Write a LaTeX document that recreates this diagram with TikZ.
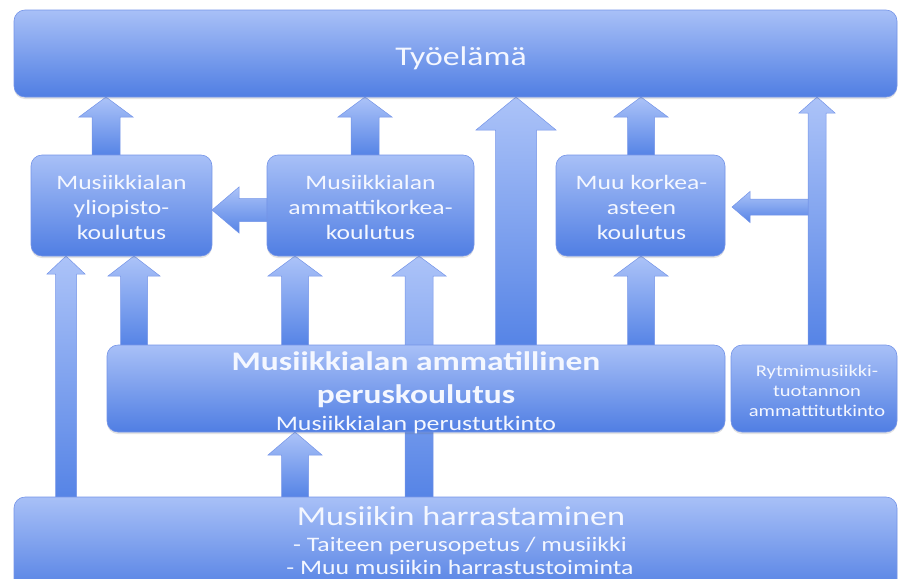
\documentclass[tikz,border=0pt]{standalone}
\usepackage{fontspec}
\setmainfont{Carlito}
\usetikzlibrary{calc,shadows}
\definecolor{btop}{RGB}{168,192,247}
\definecolor{bbot}{RGB}{80,126,227}
\definecolor{atop}{RGB}{172,195,248}
\definecolor{abot}{RGB}{86,132,230}
\definecolor{edgec}{RGB}{116,148,232}
\definecolor{txtc}{RGB}{244,247,255}
\pgfdeclarelayer{bg}
\pgfsetlayers{bg,main}
\tikzset{
  box/.style={rounded corners=11pt, top color=btop, bottom color=bbot, draw=edgec, line width=0.6pt, inner sep=0pt, outer sep=0pt,
    drop shadow={shadow xshift=0pt, shadow yshift=-2pt, opacity=0.18, fill=black!60}},
  blk/.style={top color=atop, bottom color=abot, draw=edgec, line width=0.5pt},
  lbl/.style={text=txtc, align=center, xscale=1.25, inner sep=0pt},
}
% up block arrow: #1 tail, #2 tip, #3 shaft half width, #4 head half width, #5 head length
\newcommand\blkup[5]{%
  \path[blk] let \p1=#1, \p2=#2 in
    ({\x1-#3pt},\y1) -- ({\x1-#3pt},{\y2-#5pt}) -- ({\x1-#4pt},{\y2-#5pt}) -- (\x1,\y2)
    -- ({\x1+#4pt},{\y2-#5pt}) -- ({\x1+#3pt},{\y2-#5pt}) -- ({\x1+#3pt},\y1) -- cycle;}
% left block arrow
\newcommand\blkleft[5]{%
  \path[blk] let \p1=#1, \p2=#2 in
    (\x1,{\y1+#3pt}) -- ({\x2+#5pt},{\y1+#3pt}) -- ({\x2+#5pt},{\y1+#4pt}) -- (\x2,\y1)
    -- ({\x2+#5pt},{\y1-#4pt}) -- ({\x2+#5pt},{\y1-#3pt}) -- (\x1,{\y1-#3pt}) -- cycle;}
\begin{document}
\begin{tikzpicture}[x=1pt,y=-1pt]
\useasboundingbox (0,0) rectangle (898,579);
% boxes
\node[box, minimum width=883pt, minimum height=87pt] (top) at (455.5,53.5) {};
\node[box, minimum width=181pt, minimum height=101pt] (yl) at (121.5,205.5) {};
\node[box, minimum width=207pt, minimum height=101pt] (ak) at (370.5,205.5) {};
\node[box, minimum width=169pt, minimum height=101pt] (mk) at (640.5,205.5) {};
\node[box, minimum width=618pt, minimum height=87pt] (am) at (416,388.5) {};
\node[box, minimum width=166pt, minimum height=87pt] (ry) at (814,388.5) {};
\node[box, minimum width=883pt, minimum height=100pt] (bt) at (455.5,547) {};
\coordinate (rj) at (808,207);
% arrows
\begin{pgfonlayer}{bg}
\blkup{(106,0 |- yl.north)}{(106,0 |- top.south)}{14}{27}{20}
\blkup{(365,0 |- ak.north)}{(365,0 |- top.south)}{14}{27}{20}
\blkup{(516,0 |- am.north)}{(516,0 |- top.south)}{20.5}{40}{33}
\blkup{(641,0 |- mk.north)}{(641,0 |- top.south)}{13.5}{27}{20}
\blkup{(817,0 |- ry.north)}{(817,0 |- top.south)}{9}{18}{16}
\blkleft{(rj)}{($(mk.east |- rj)+(7,0)$)}{8}{15.5}{18}
\blkleft{(ak.west |- 0,210)}{(yl.east |- 0,210)}{11.5}{23}{27}
\blkup{(66,0 |- bt.north)}{(66,0 |- yl.south)}{10.5}{19}{18}
\blkup{(134,0 |- am.north)}{(134,0 |- yl.south)}{13.5}{26}{20}
\blkup{(295,0 |- am.north)}{(295,0 |- ak.south)}{13.5}{27}{20}
\blkup{(419,0 |- bt.north)}{(419,0 |- ak.south)}{14}{27}{20}
\blkup{(641,0 |- am.north)}{(641,0 |- mk.south)}{13.5}{27}{20}
\blkup{(295,0 |- bt.north)}{(295,0 |- am.south)}{13.5}{27}{23}
\end{pgfonlayer}
% texts
\node[lbl, anchor=base, font=\fontsize{27}{33}\selectfont] (topt) at (461,65) {Työelämä};
\node[lbl, font=\fontsize{20.5}{25}\selectfont] (ylt) at ($(yl)+(0,2)$) {Musiikkialan\\yliopisto-\\koulutus};
\node[lbl, font=\fontsize{20.5}{25}\selectfont] (akt) at ($(ak)+(0,2)$) {Musiikkialan\\ammattikorkea-\\koulutus};
\node[lbl, font=\fontsize{20.5}{25}\selectfont] (mkt) at ($(mk)+(1,2)$) {Muu korkea-\\asteen\\koulutus};
\node[lbl, anchor=base, font=\bfseries\fontsize{26.8}{33}\selectfont] (am1) at (416,370) {Musiikkialan ammatillinen};
\node[lbl, anchor=base, font=\bfseries\fontsize{26.8}{33}\selectfont] (am2) at (416,403) {peruskoulutus};
\node[lbl, anchor=base, font=\fontsize{20.7}{25}\selectfont] (am3) at (416,430) {Musiikkialan perustutkinto};
\node[lbl, font=\fontsize{16.4}{20}\selectfont] (ryt) at (817,391) {Rytmimusiikki-\\tuotannon\\ammattitutkinto};
\node[lbl, anchor=base, font=\fontsize{27.4}{33}\selectfont] (bt1) at (461,525) {Musiikin harrastaminen};
\node[lbl, anchor=base, font=\fontsize{20.6}{25}\selectfont] (bt2) at (460,551) {- Taiteen perusopetus / musiikki};
\node[lbl, anchor=base, font=\fontsize{20.6}{25}\selectfont] (bt3) at (460,574) {- Muu musiikin harrastustoiminta};
\end{tikzpicture}
\end{document}
